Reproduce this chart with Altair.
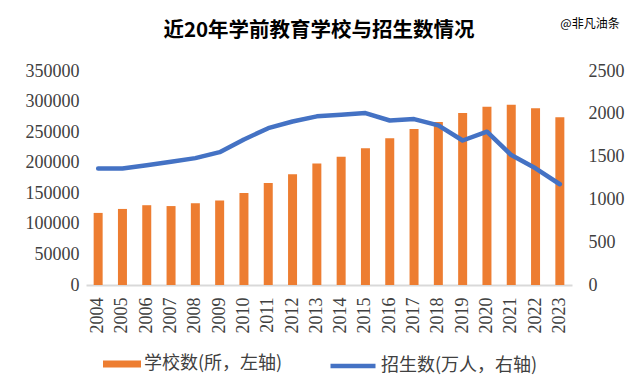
import altair as alt
import pandas as pd

years = [str(y) for y in range(2004, 2024)]
schools = [117899, 124402, 130495, 129086, 133722, 138209, 150420, 166750, 181251, 198553,
           209881, 223683, 239812, 254950, 266677, 281174, 291715, 294832, 289167, 274400]
enroll = [1362, 1362, 1400, 1440, 1482, 1552, 1700, 1832, 1910, 1970,
          1988, 2009, 1922, 1938, 1864, 1688, 1791, 1518, 1363, 1177]
left_ticks = [0, 50000, 100000, 150000, 200000, 250000, 300000, 350000]
right_ticks = [0, 500, 1000, 1500, 2000, 2500]
bar_name = "学校数(所，左轴)"
line_name = "招生数(万人，右轴)"
title_text = ["近20年学前教育学校与招生数情况"]
watermark = ["@非凡油条"]

df = pd.DataFrame({"year": years, "schools": schools, "enroll": enroll,
                   "s1": bar_name, "s2": line_name})

NUM_FONT = "Liberation Serif"
CJK_FONT = "Noto Sans CJK SC"
LABEL_COLOR = "#404040"

x = alt.X("year:N", sort=years,
          scale=alt.Scale(paddingInner=0.63, paddingOuter=0.315),
          axis=alt.Axis(title=None, labelAngle=-90, ticks=False, tickSize=0,
                        domainColor="#d9d9d9", domainWidth=2, labelPadding=12,
                        labelFont=NUM_FONT, labelFontSize=18, labelColor=LABEL_COLOR))

base = alt.Chart(df)

bars = base.mark_bar(size=9).encode(
    x=x,
    y=alt.Y("schools:Q", scale=alt.Scale(domain=[0, 350000], nice=False),
            axis=alt.Axis(title=None, values=left_ticks, format="d", grid=False, domain=False,
                          ticks=False, labelPadding=7, labelFont=NUM_FONT, labelFontSize=18,
                          labelColor=LABEL_COLOR)),
    fill=alt.Fill("s1:N", scale=alt.Scale(domain=[bar_name], range=["#ED7D31"]),
                  legend=alt.Legend(title=None, orient="none", legendX=17, legendY=274,
                                    symbolType="M-1,-0.184L1,-0.184L1,0.184L-1,0.184Z",
                                    symbolSize=1444, symbolStrokeWidth=0, labelOffset=3,
                                    padding=0, labelFont=CJK_FONT, labelFontSize=18,
                                    labelColor=LABEL_COLOR, labelLimit=400)),
)

line = base.mark_line(strokeWidth=4.5, strokeCap="round", strokeJoin="round").encode(
    x=x,
    y=alt.Y("enroll:Q", scale=alt.Scale(domain=[0, 2500], nice=False),
            axis=alt.Axis(title=None, orient="right", values=right_ticks, format="d",
                          grid=False, domain=False, ticks=False, labelPadding=16,
                          labelFont=NUM_FONT, labelFontSize=18, labelColor=LABEL_COLOR)),
    stroke=alt.Stroke("s2:N", scale=alt.Scale(domain=[line_name], range=["#4472C4"]),
                      legend=alt.Legend(title=None, orient="none", legendX=242, legendY=270,
                                        symbolType="stroke", symbolSize=2025,
                                        symbolStrokeWidth=4.5, labelOffset=3, padding=0,
                                        labelFont=CJK_FONT, labelFontSize=18,
                                        labelColor=LABEL_COLOR, labelLimit=400)),
)

wm = alt.Chart(pd.DataFrame({"t": watermark})).mark_text(
    font=CJK_FONT, fontSize=12, color="#000000", align="center", baseline="middle"
).encode(text="t:N", x=alt.value(504), y=alt.value(-47))

ttl = alt.Chart(pd.DataFrame({"t": title_text})).mark_text(
    font=CJK_FONT, fontSize=20.5, fontWeight="bold", color="#000000",
    align="center", baseline="middle"
).encode(text="t:N", x=alt.value(233), y=alt.value(-40))

chart = alt.layer(bars, line, wm, ttl).resolve_scale(
    y="independent", fill="independent", stroke="independent"
).properties(
    width=486, height=214,
    autosize=alt.AutoSizeParams(type="none"),
    padding={"left": 78, "top": 63, "right": 55, "bottom": 95},
    background="white",
).configure_view(stroke=None)

chart.save("out.html", embed_options={"renderer": "svg", "actions": False})
